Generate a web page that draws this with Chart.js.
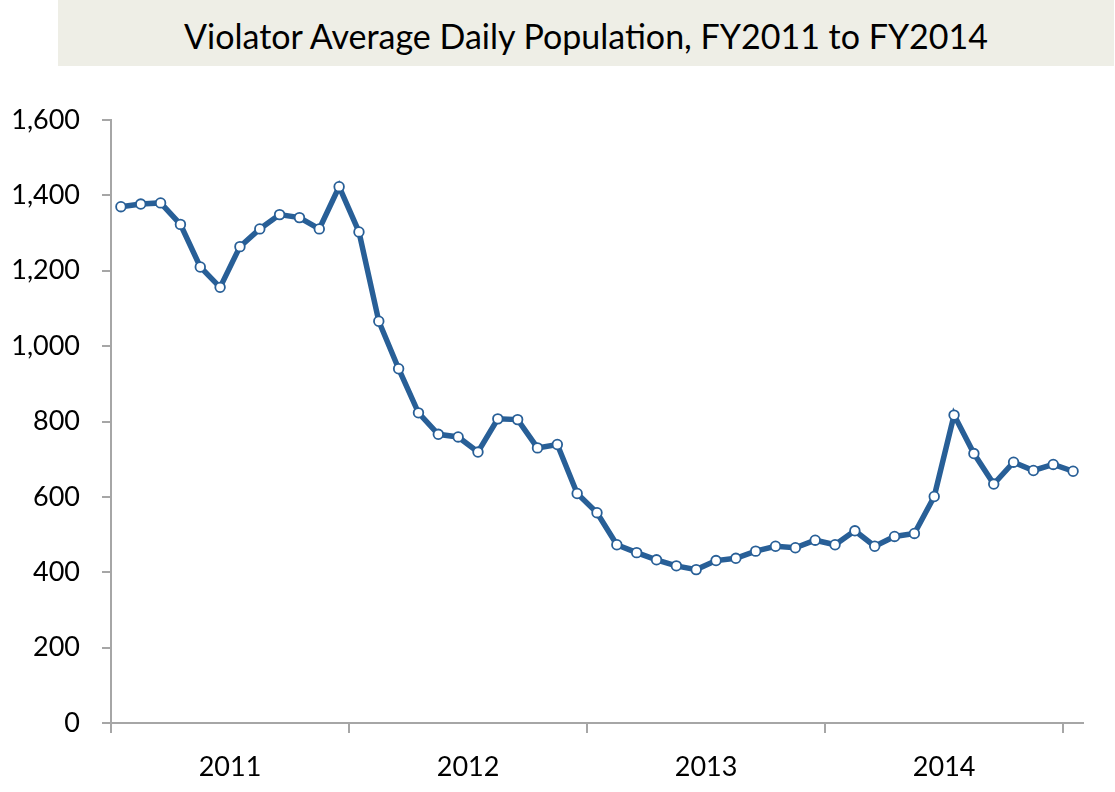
<!DOCTYPE html>
<html>
<head>
<meta charset="utf-8">
<script src="https://cdn.jsdelivr.net/npm/chart.js@4/dist/chart.umd.min.js"></script>
<style>
    body { margin: 0; background: #fff; }
    #wrap { position: relative; width: 1115px; height: 792px; }
    #titulo {
        position: absolute; left: 58px; top: 0; width: 1056px; height: 66px;
        background: #eeeee6; color: #000; text-align: center;
        font-family: Lato, sans-serif; font-size: 34px; line-height: 72px;
    }
    canvas { position: absolute; left: 0; top: 0; }
</style>
</head>
<body>
<div id="wrap">
    <canvas id="grafico" width="1115" height="792"></canvas>
    <div id="titulo">Violator Average Daily Population, FY2011 to FY2014</div>
</div>
<script>
// fiscal years on the x axis
let anos = ["2011", "2012", "2013", "2014"];

// monthly average daily population
let populacao = [
    1370, 1377, 1380, 1323, 1210, 1156, 1264, 1311, 1349, 1341, 1311, 1423,
    1303, 1066, 940, 823, 766, 759, 719, 807, 805, 730, 739, 609,
    558, 473, 452, 433, 417, 407, 431, 437, 456, 469, 465, 485,
    473, 510, 469, 495, 503, 601, 817, 715, 634, 692, 670, 686, 668
];

let yTicks = [0, 200, 400, 600, 800, 1000, 1200, 1400, 1600];

let pontos = populacao.map((v, i) => ({ x: i, y: v }));

const azul = "#285f97";
const cinza = "#a6a6a6";
const fonte = { family: "Lato, sans-serif", size: 27 };

const ctx = document.getElementById("grafico").getContext("2d");
new Chart(ctx, {
    type: "line",
    data: {
        datasets: [{
            data: pontos,
            borderColor: azul,
            borderWidth: 5.5,
            pointBackgroundColor: "#ffffff",
            pointBorderColor: azul,
            pointBorderWidth: 1.8,
            pointRadius: 4.8,
            tension: 0
        }]
    },
    options: {
        responsive: false,
        animation: false,
        layout: { padding: { top: 120, right: 32, left: 0, bottom: 0 } },
        plugins: { legend: { display: false }, tooltip: { enabled: false } },
        scales: {
            x: {
                type: "linear",
                min: -0.5,
                max: 48.5,
                afterFit: s => { s.height = 69; },
                afterBuildTicks: s => {
                    let t = [];
                    for (let i = 0; i <= anos.length; i++) {
                        t.push({ value: i * 12 - 0.5 });
                        if (i < anos.length) t.push({ value: i * 12 + 5.5 });
                    }
                    s.ticks = t;
                },
                border: { color: cinza, width: 2 },
                grid: {
                    drawOnChartArea: false,
                    tickLength: 10,
                    lineWidth: 2,
                    tickColor: c => (c.index % 2 === 0 ? cinza : "rgba(0,0,0,0)")
                },
                ticks: {
                    autoSkip: false,
                    maxRotation: 0,
                    padding: 18,
                    color: "#000",
                    font: fonte,
                    callback: (v, i) => (i % 2 === 1 ? anos[(i - 1) / 2] : "")
                }
            },
            y: {
                min: 0,
                max: 1600,
                afterFit: s => { s.width = 111; },
                afterBuildTicks: s => { s.ticks = yTicks.map(v => ({ value: v })); },
                border: { color: cinza, width: 2 },
                grid: {
                    drawOnChartArea: false,
                    tickLength: 9,
                    lineWidth: 2,
                    color: cinza
                },
                ticks: {
                    padding: 22,
                    color: "#000",
                    font: fonte,
                    callback: v => v.toLocaleString("en-US")
                }
            }
        }
    }
});
</script>
</body>
</html>
